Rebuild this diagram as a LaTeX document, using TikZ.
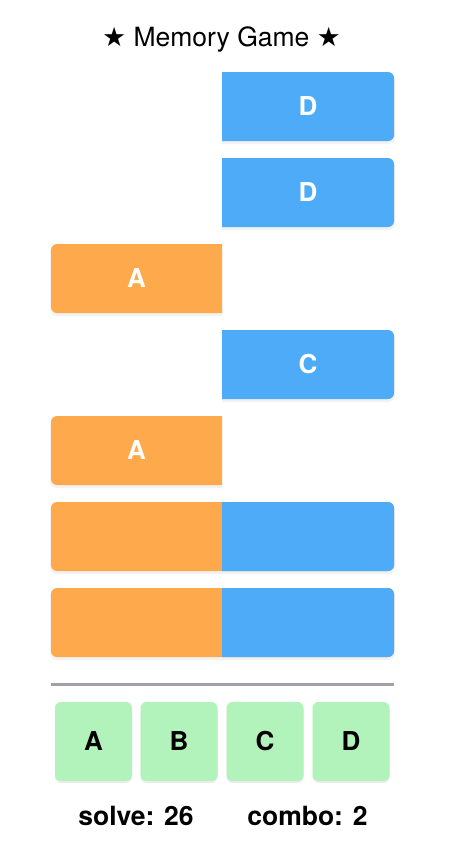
\documentclass[tikz,border=0pt]{standalone}
\usepackage{fontspec}
\setmainfont{TeX Gyre Heros}
\newfontfamily\symfont{DejaVu Sans}
\definecolor{cardblue}{HTML}{4DABF7}
\definecolor{cardorange}{HTML}{FFA94D}
\definecolor{btngreen}{HTML}{B2F2BB}
\definecolor{rulegray}{HTML}{A0A1A9}
\tikzset{
  cardlbl/.style={text=white, font=\bfseries\fontsize{26}{26}\selectfont, inner sep=0},
  btnbox/.style={fill=btngreen, rounded corners=6, minimum width=77, minimum height=79, inner sep=0,
     font=\bfseries\fontsize{26}{26}\selectfont, text=black,
     preaction={fill=black, opacity=0.07, transform canvas={yshift=-2pt}}},
  scoretxt/.style={font=\bfseries\fontsize{26.5}{26.5}\selectfont, anchor=base, inner sep=0},
  shade1/.style={fill=black, opacity=0.05},
}
\newcommand\rightcard[2]{%
  \begin{scope}
    \clip (222,0) rectangle (462,865);
    \fill[shade1, rounded corners=7] (200,#1+1) rectangle (395,#1+72);
    \fill[cardblue, rounded corners=6] (200,#1) rectangle (394,#1+69);
  \end{scope}}
\newcommand\leftcard[2]{%
  \begin{scope}
    \clip (0,0) rectangle (222,865);
    \fill[shade1, rounded corners=7] (50,#1+1) rectangle (250,#1+72);
    \fill[cardorange, rounded corners=6] (51,#1) rectangle (250,#1+69);
  \end{scope}}
\newcommand\fullcard[1]{%
  \fill[shade1, rounded corners=7] (50,#1+1) rectangle (395,#1+72);
  \fill[cardorange, rounded corners=6] (51,#1) rectangle (394,#1+69);
  \begin{scope}
    \clip (222,0) rectangle (462,865);
    \fill[cardblue, rounded corners=6] (51,#1) rectangle (394,#1+69);
  \end{scope}}
\begin{document}
\begin{tikzpicture}[x=1pt,y=-1pt]
  \useasboundingbox[fill=white] (0,0) rectangle (462,865);
  \node[anchor=base, inner sep=0, font=\fontsize{26.5}{26.5}\selectfont] (title) at (221.5,46.5)
     {{\symfont ★} Memory Game {\symfont ★}};
  % row 1
  \rightcard{72}{}
  \node[cardlbl] (r1) at (308,106.5) {D};
  % row 2
  \rightcard{158}{}
  \node[cardlbl] (r2) at (308,192.5) {D};
  % row 3
  \leftcard{244}{}
  \node[cardlbl] (r3) at (136.5,278.5) {A};
  % row 4
  \rightcard{330}{}
  \node[cardlbl] (r4) at (308,364.5) {C};
  % row 5
  \leftcard{416}{}
  \node[cardlbl] (r5) at (136.5,450.5) {A};
  % rows 6, 7
  \fullcard{502}
  \fullcard{588}
  % separator
  \coordinate (sepL) at (51,684);
  \coordinate (sepR) at (394,684);
  \draw[rulegray, line width=3] (sepL) -- (sepR);
  % buttons
  \node[btnbox] (bA) at (93.5,741.5) {A};
  \node[btnbox] (bB) at (179,741.5) {B};
  \node[btnbox] (bC) at (265,741.5) {C};
  \node[btnbox] (bD) at (351,741.5) {D};
  % scores
  \node[scoretxt] (solve) at (136,825) {solve: 26};
  \node[scoretxt] (combo) at (307.5,825) {combo: 2};
\end{tikzpicture}
\end{document}
